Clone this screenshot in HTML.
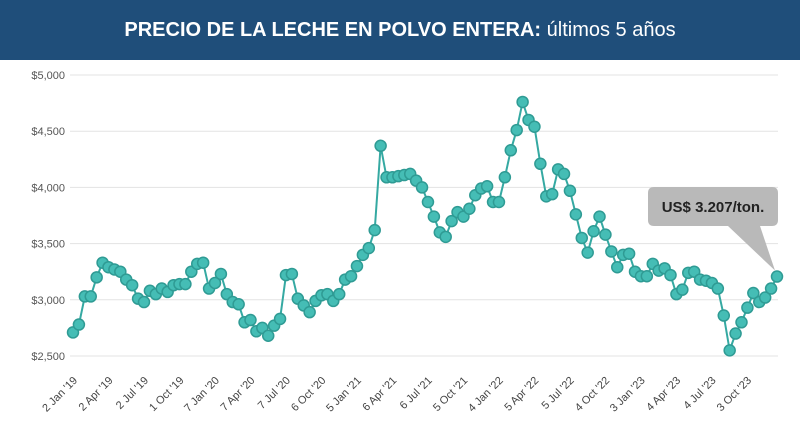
<!DOCTYPE html>
<html><head><meta charset="utf-8"><style>
body{margin:0;width:800px;height:426px;background:#fff;overflow:hidden;font-family:"Liberation Sans",sans-serif}
#hdr{position:absolute;left:0;top:0;width:800px;height:60px;background:#1f4e7a;color:#fff;text-align:center;line-height:60px;font-size:20px}
</style></head><body>
<div id="hdr"><b>PRECIO DE LA LECHE EN POLVO ENTERA:</b> últimos 5 años</div>
<svg id="c" width="800" height="426" style="position:absolute;left:0;top:0"></svg>
<script>
const yTicks=[2500,3000,3500,4000,4500,5000];
const yTickLabels=["$2,500","$3,000","$3,500","$4,000","$4,500","$5,000"];
const xLabels=["2 Jan '19","2 Apr '19","2 Jul '19","1 Oct '19","7 Jan '20","7 Apr '20","7 Jul '20","6 Oct '20","5 Jan '21","6 Apr '21","6 Jul '21","5 Oct '21","4 Jan '22","5 Apr '22","5 Jul '22","4 Oct '22","3 Jan '23","4 Apr '23","4 Jul '23","3 Oct '23"];
const prices=[2710,2780,3030,3030,3200,3330,3290,3270,3250,3180,3130,3010,2980,3080,3050,3100,3070,3130,3140,3140,3250,3320,3330,3100,3150,3230,3050,2980,2960,2800,2820,2720,2750,2680,2770,2830,3220,3230,3010,2950,2890,2990,3040,3050,2990,3050,3180,3210,3300,3400,3460,3620,4370,4090,4090,4100,4110,4120,4060,4000,3870,3740,3600,3560,3700,3780,3740,3810,3930,3990,4010,3870,3870,4090,4330,4510,4760,4600,4540,4210,3920,3940,4160,4120,3970,3760,3550,3420,3610,3740,3580,3430,3290,3400,3410,3250,3210,3210,3320,3260,3280,3220,3050,3090,3240,3250,3180,3170,3150,3100,2860,2550,2700,2800,2930,3060,2980,3020,3100,3207];
const calloutText="US$ 3.207/ton.";
const svg=document.getElementById('c');const NS='http://www.w3.org/2000/svg';
function mk(t,a,p){const e=document.createElementNS(NS,t);for(const k in a)e.setAttribute(k,a[k]);(p||svg).appendChild(e);return e;}
const y=v=>356-(v-2500)*(281/2500);
const x=i=>73+i*(704/(prices.length-1));
yTicks.forEach((v,i)=>{
 const g=mk('line',{x1:70,x2:778,y1:y(v),y2:y(v),stroke:'#e3e3e3','stroke-width':1});
 
 
 const t=mk('text',{x:65,y:y(v)+4,'text-anchor':'end','font-size':11,fill:'#555'});t.textContent=yTickLabels[i];
 
 
});
xLabels.forEach((s,i)=>{
 const lx=78+i*(674/(xLabels.length-1));
 const t=mk('text',{x:lx,y:381,'text-anchor':'end','font-size':11,fill:'#444',transform:`rotate(-45 ${lx} 381)`});t.textContent=s;
 
 
});
const pts=prices.map((v,i)=>x(i)+','+y(v)).join(' ');
const ln=mk('polyline',{points:pts,fill:'none',stroke:'#35a9a2','stroke-width':2});


prices.forEach((v,i)=>{
 const c=mk('circle',{cx:x(i),cy:y(v),r:5.5,fill:'#45bdb5',stroke:'#2f9b94','stroke-width':1.5});
 
 
});
const lx=x(prices.length-1),ly=y(prices[prices.length-1]);
const co=mk('path',{d:`M654 187 h118 q6 0 6 6 v27 q0 6 -6 6 h-12 L${lx-2} ${ly-6} L728 226 h-74 q-6 0 -6 -6 v-27 q0 -6 6 -6 z`,fill:'#b9b9b9'});


const ct=mk('text',{x:713,y:212,'text-anchor':'middle','font-size':15,'font-weight':'bold',fill:'#222'});ct.textContent=calloutText;


</script>
</body></html>
